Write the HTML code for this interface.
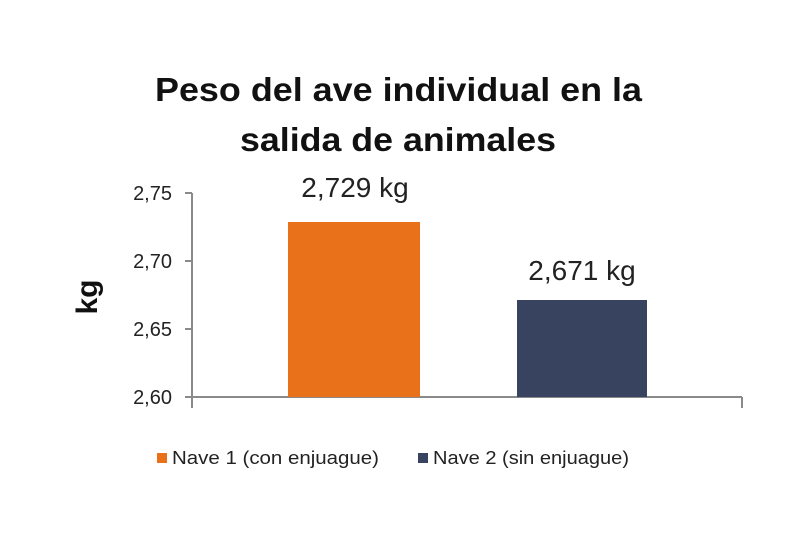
<!DOCTYPE html>
<html><head><meta charset="utf-8"><style>html,body{margin:0;padding:0;background:#fff}</style></head>
<body>
<svg width="800" height="533" viewBox="0 0 800 533" xmlns="http://www.w3.org/2000/svg" font-family="Liberation Sans, sans-serif">
<rect width="800" height="533" fill="#fff"/>
<text x="155" y="101" font-size="33" font-weight="bold" fill="#111" textLength="487" lengthAdjust="spacingAndGlyphs">Peso del ave individual en la</text>
<text x="240" y="151" font-size="33" font-weight="bold" fill="#111" textLength="316" lengthAdjust="spacingAndGlyphs">salida de animales</text>
<g stroke="#8a8a8a" stroke-width="2" fill="none">
<line x1="192" y1="193" x2="192" y2="408"/>
<line x1="185" y1="193" x2="192" y2="193"/>
<line x1="185" y1="261" x2="192" y2="261"/>
<line x1="185" y1="329" x2="192" y2="329"/>
<line x1="185" y1="397" x2="742" y2="397"/>
<line x1="742" y1="397" x2="742" y2="408"/>
</g>
<g font-size="20" fill="#222" text-anchor="end">
<text x="172" y="200">2,75</text>
<text x="172" y="268">2,70</text>
<text x="172" y="336">2,65</text>
<text x="172" y="404">2,60</text>
</g>
<text transform="translate(97,297) rotate(-90)" font-size="30" font-weight="bold" fill="#111" text-anchor="middle">kg</text>
<rect x="288" y="222" width="132" height="175" fill="#e8711a"/>
<rect x="517" y="300" width="130" height="97" fill="#38435f"/>
<text x="355" y="197" font-size="28" fill="#222" text-anchor="middle">2,729 kg</text>
<text x="582" y="280" font-size="28" fill="#222" text-anchor="middle">2,671 kg</text>
<rect x="157" y="453" width="10" height="10" fill="#e8711a"/>
<text x="172" y="464" font-size="18" fill="#222" textLength="207" lengthAdjust="spacingAndGlyphs">Nave 1 (con enjuague)</text>
<rect x="418" y="453" width="10" height="10" fill="#38435f"/>
<text x="433" y="464" font-size="18" fill="#222" textLength="196" lengthAdjust="spacingAndGlyphs">Nave 2 (sin enjuague)</text>
</svg>
</body></html>
